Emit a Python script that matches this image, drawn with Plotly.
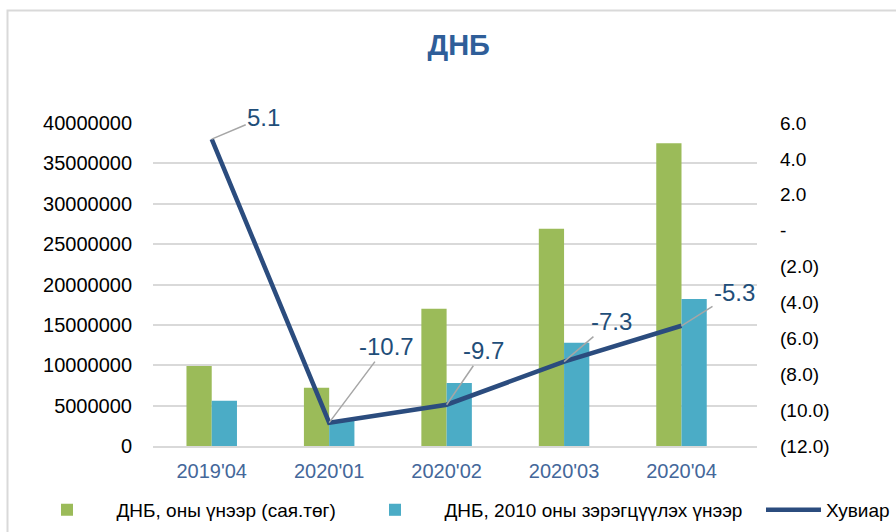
import plotly.graph_objects as go

categories = ["2019'04", "2020'01", "2020'02", "2020'03", "2020'04"]
gdp_current = [9900000, 7200000, 17000000, 26900000, 37500000]
gdp_constant = [5600000, 3200000, 7800000, 12800000, 18200000]
growth = [5.1, -10.7, -9.7, -7.3, -5.3]

y2_ticks = [-12, -10, -8, -6, -4, -2, 0, 2, 4, 6]
y2_ticktext = ["(12.0)", "(10.0)", "(8.0)", "(6.0)", "(4.0)", "(2.0)", "-", "2.0", "4.0", "6.0"]
y_ticks = [0, 5000000, 10000000, 15000000, 20000000, 25000000, 30000000, 35000000, 40000000]

series_names = ["ДНБ, оны үнээр (сая.төг)", "ДНБ, 2010 оны зэрэгцүүлэх үнээр", "Хувиар"]

# label offsets (pixels) – style only
label_offsets = [(52, -22), (57, -76), (37, -54), (47, -40), (53, -33)]

FONT = "Liberation Sans, Arial, sans-serif"

fig = go.Figure()
fig.add_trace(go.Bar(x=categories, y=gdp_current, name=series_names[0], legendwidth=224,
                     marker=dict(color="#9BBB59", line=dict(width=0))))
fig.add_trace(go.Bar(x=categories, y=gdp_constant, name=series_names[1], legendwidth=295,
                     marker=dict(color="#4BACC6", line=dict(width=0))))
fig.add_trace(go.Scatter(x=categories, y=growth, name=series_names[2], yaxis="y2",
                         legend="legend2",
                         mode="lines", line=dict(color="#2B4C7E", width=4.5)))

annotations = []
for cat, val, (dx, dy) in zip(categories, growth, label_offsets):
    annotations.append(dict(
        x=cat, y=val, xref="x", yref="y2", text=f"{val:.1f}",
        showarrow=True, arrowhead=0, arrowwidth=1.5, arrowcolor="#A6A6A6",
        ax=dx, ay=dy, standoff=0,
        font=dict(family=FONT, size=24, color="#1F4E79"),
    ))

legend_font = dict(family=FONT, size=19, color="#000000")

fig.update_layout(
    width=896, height=532,
    margin=dict(l=153, r=139, t=123, b=86, autoexpand=False),
    paper_bgcolor="white", plot_bgcolor="white",
    barmode="group", bargap=0.57, bargroupgap=0,
    title=dict(text="<b>ДНБ</b>", x=0.512, y=1 - 45 / 532, xanchor="center", yanchor="middle",
               font=dict(family=FONT, size=29, color="#2F5E99")),
    font=dict(family=FONT, size=20, color="#000000"),
    xaxis=dict(showline=True, linecolor="#D9D9D9", linewidth=1.5, ticks="",
               tickfont=dict(size=20, color="#44679A"), ticklabelstandoff=6),
    yaxis=dict(range=[0, 40000000], tickvals=y_ticks, ticktext=[str(v) for v in y_ticks],
               showgrid=True, gridcolor="#D9D9D9", gridwidth=1.5, zeroline=False,
               ticks="", ticklabelstandoff=20, tickfont=dict(size=20, color="#000000")),
    yaxis2=dict(range=[-12, 6], overlaying="y", side="right", tickvals=y2_ticks,
                ticktext=y2_ticktext, showgrid=False, zeroline=False, ticks="",
                ticklabelstandoff=22, tickfont=dict(size=19, color="#000000")),
    legend=dict(orientation="h", x=(17.5 - 153) / 604, xanchor="left", y=-0.198, yanchor="middle",
                font=legend_font, itemwidth=89,
                traceorder="normal", bgcolor="rgba(0,0,0,0)"),
    legend2=dict(orientation="h", x=(761 - 153) / 604, xanchor="left", y=-0.198, yanchor="middle",
                 font=legend_font, itemwidth=55, bgcolor="rgba(0,0,0,0)"),
    annotations=annotations,
    shapes=[dict(type="rect", xref="paper", yref="paper",
                 x0=(7.5 - 153) / 604, x1=1.5, y0=-0.6, y1=(446 - 10.5) / 323,
                 line=dict(color="#D9D9D9", width=2), fillcolor="rgba(0,0,0,0)", layer="below")],
)

fig.write_html("out.html", config={"displayModeBar": False},
               post_script="document.body.style.margin='0';")
